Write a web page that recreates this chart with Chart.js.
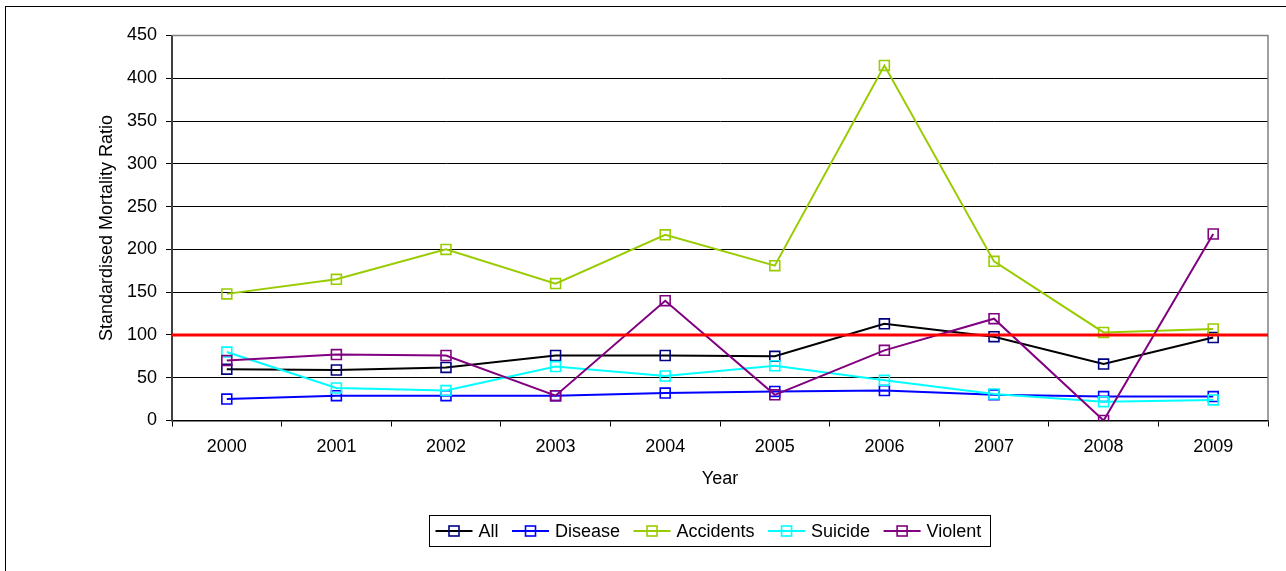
<!DOCTYPE html>
<html>
<head>
<meta charset="utf-8">
<title>Standardised Mortality Ratio by Year</title>
<script src="https://cdn.jsdelivr.net/npm/chart.js@4/dist/chart.umd.min.js"></script>
<style>
  html, body { margin: 0; padding: 0; background: #fff; }
  #wrap { position: relative; width: 1286px; height: 571px; overflow: hidden; }
  #frame { position: absolute; left: 5px; top: 6px; width: 1400px; height: 700px;
           border: 1px solid #000; box-sizing: border-box; }
  #chart { position: absolute; left: 0; top: 0; }
</style>
</head>
<body>
<div id="wrap">
  <div id="frame"></div>
  <canvas id="chart" width="1286" height="571"></canvas>
</div>
<script>
// Years on the category axis
const years = ['2000', '2001', '2002', '2003', '2004', '2005', '2006', '2007', '2008', '2009'];

// Standardised mortality ratios per cause
const allCauses = [60, 59, 62, 76, 76, 75, 113, 98, 66, 97];
const disease   = [25, 29, 29, 29, 32, 34, 35, 30, 28, 28];
const accidents = [148, 165, 200, 160, 217, 181, 415, 186, 103, 107];
const suicide   = [80, 38, 35, 63, 52, 64, 47, 31, 22, 24];
const violent   = [70, 77, 76, 29, 140, 30, 82, 119, 0, 218];

// Value-axis ticks and the reference ratio (population average)
const yTicks = [0, 50, 100, 150, 200, 250, 300, 350, 400, 450];
const referenceLevel = 100;

const FONT = 'Liberation Sans, Arial, Helvetica, sans-serif';

function series(label, data, lineColor, markerColor, order) {
  return {
    label, data, order,
    borderColor: lineColor,
    borderWidth: 2,
    pointStyle: 'rect',
    pointRadius: 7,
    pointHoverRadius: 7,
    pointBorderColor: markerColor,
    pointBorderWidth: 1.6,
    pointBackgroundColor: 'rgba(0,0,0,0)',
    markerColor,
    tension: 0,
    fill: false
  };
}

// Grey frame around the plotting area
const plotFrame = {
  id: 'plotFrame',
  beforeDatasetsDraw(chart) {
    const { ctx, chartArea: a } = chart;
    ctx.save();
    ctx.strokeStyle = '#808080';
    ctx.lineWidth = 1.5;
    ctx.beginPath();
    ctx.moveTo(a.left, a.top);
    ctx.lineTo(a.right, a.top);
    ctx.lineTo(a.right, a.bottom);
    ctx.stroke();
    ctx.restore();
  }
};

// Horizontal reference line across the full plot width
const referenceLine = {
  id: 'referenceLine',
  afterDatasetsDraw(chart) {
    const { ctx, chartArea: a, scales: { y } } = chart;
    const py = y.getPixelForValue(referenceLevel);
    ctx.save();
    ctx.strokeStyle = '#FF0000';
    ctx.lineWidth = 3;
    ctx.beginPath();
    ctx.moveTo(a.left, py);
    ctx.lineTo(a.right, py);
    ctx.stroke();
    ctx.restore();
  }
};

// Boxed legend: line sample with square marker, then the label
const boxedLegend = {
  id: 'boxedLegend',
  afterDraw(chart) {
    const { ctx } = chart;
    const sets = chart.data.datasets;
    ctx.save();
    ctx.font = '18px ' + FONT;
    const lineLen = 37, gapText = 6, gapItem = 13.5, padL = 6, padR = 9;
    const widths = sets.map(d => ctx.measureText(d.label).width);
    let total = padL + padR;
    widths.forEach((w, i) => { total += lineLen + gapText + w + (i < sets.length - 1 ? gapItem : 0); });
    const cx = 709.5, top = 515, h = 31;
    const left = Math.round(cx - total / 2) + 0.5;
    ctx.strokeStyle = '#000';
    ctx.lineWidth = 1;
    ctx.strokeRect(left, top + 0.5, Math.round(total), h);
    const midY = top + h / 2 + 0.5;
    let x = left + padL;
    sets.forEach((d, i) => {
      ctx.strokeStyle = d.borderColor;
      ctx.lineWidth = 2;
      ctx.beginPath();
      ctx.moveTo(x, midY);
      ctx.lineTo(x + lineLen, midY);
      ctx.stroke();
      ctx.strokeStyle = d.markerColor;
      ctx.lineWidth = 1.6;
      ctx.strokeRect(x + lineLen / 2 - 5, midY - 5, 10, 10);
      ctx.fillStyle = '#000';
      ctx.textAlign = 'left';
      ctx.textBaseline = 'middle';
      ctx.fillText(d.label, x + lineLen + gapText, midY + 1);
      x += lineLen + gapText + widths[i] + gapItem;
    });
    ctx.restore();
  }
};

new Chart(document.getElementById('chart'), {
  type: 'line',
  data: {
    labels: years,
    datasets: [
      series('All', allCauses, '#000000', '#000080', 4),
      series('Disease', disease, '#0000FF', '#0000FF', 3),
      series('Accidents', accidents, '#99CC00', '#99CC00', 2),
      series('Suicide', suicide, '#00FFFF', '#00FFFF', 1),
      series('Violent', violent, '#800080', '#800080', 0)
    ]
  },
  options: {
    responsive: false,
    devicePixelRatio: 1,
    animation: false,
    layout: { padding: { left: 96, right: 18, top: 35.5, bottom: 81 } },
    plugins: {
      legend: { display: false },
      tooltip: { enabled: false }
    },
    scales: {
      x: {
        type: 'category',
        offset: true,
        grid: { display: true, offset: true, drawOnChartArea: false, drawTicks: true,
                tickLength: 6, color: '#000', lineWidth: 1 },
        border: { display: true, color: '#000', width: 1.5 },
        ticks: { color: '#000', font: { family: FONT, size: 18 }, padding: 10,
                 maxRotation: 0, autoSkip: false },
        title: { display: true, text: 'Year', color: '#000',
                 font: { family: FONT, size: 18 }, padding: { top: 0, bottom: 0 } },
        afterFit(scale) { scale.height = 69.5; }
      },
      y: {
        min: 0,
        max: 450,
        afterBuildTicks(scale) { scale.ticks = yTicks.map(v => ({ value: v })); },
        grid: { color: '#000', lineWidth: 1, drawTicks: true, tickLength: 6 },
        border: { display: true, color: '#404040', width: 2 },
        ticks: { color: '#000', font: { family: FONT, size: 18 }, padding: 9 },
        title: { display: true, text: 'Standardised Mortality Ratio', color: '#000',
                 font: { family: FONT, size: 18 }, padding: { top: 0, bottom: 0 } },
        afterFit(scale) { scale.width = 76; }
      }
    }
  },
  plugins: [plotFrame, referenceLine, boxedLegend]
});
</script>
</body>
</html>
